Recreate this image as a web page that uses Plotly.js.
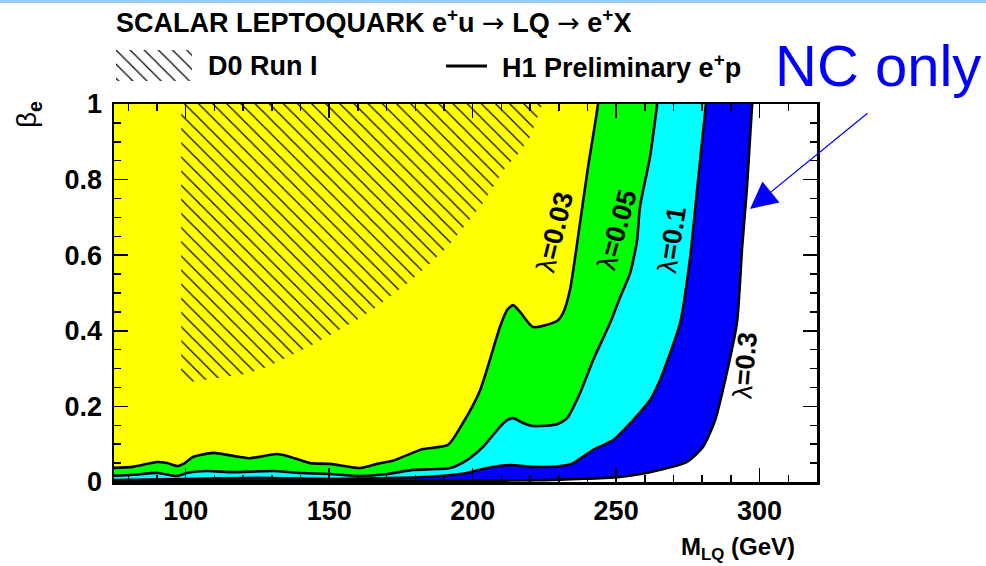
<!DOCTYPE html>
<html><head><meta charset="utf-8">
<script src="https://cdn.plot.ly/plotly-3.0.1.min.js"></script>
<style>
html,body{margin:0;padding:0;background:#fff;}
#topbar{position:absolute;left:0;top:0;width:986px;height:3px;background:#99ccff;z-index:5;}
#chart{width:986px;height:566px;}
</style></head>
<body><div id="topbar"></div><div id="chart"></div>
<script>
// ---- data ----
// lambda = 0.03 contour (yellow / green boundary)
const lam003M = [74, 81.6, 90.0, 93.5, 97.0, 99.7, 102.5, 109.5, 118.9, 122.4, 131.8, 135.3, 143.3, 150.3, 160.7, 166.7, 172.2, 177.1, 182.7, 191.4, 196.6, 202.6, 209.5, 212.0, 214.1, 216.5, 221.0, 229.4, 231.5, 233.9, 237.4, 240.2, 242.7, 243.7];
const lam003B = [0.037, 0.040, 0.053, 0.050, 0.042, 0.050, 0.066, 0.077, 0.066, 0.063, 0.074, 0.069, 0.050, 0.048, 0.037, 0.048, 0.056, 0.071, 0.087, 0.098, 0.156, 0.243, 0.410, 0.455, 0.468, 0.450, 0.410, 0.426, 0.447, 0.508, 0.685, 0.833, 0.950, 1.0];
// lambda = 0.05 contour (green / cyan boundary)
const lam005M = [74, 81.6, 90.3, 97.0, 100.4, 107.4, 116.5, 130.4, 139.8, 150.3, 160.7, 170.2, 179.2, 192.1, 198.0, 203.6, 209.5, 212.0, 214.1, 217.6, 221.0, 229.4, 232.9, 237.4, 242.0, 247.9, 251.4, 254.9, 257.3, 258.3, 261.8, 264.3];
const lam005B = [0.016, 0.019, 0.024, 0.016, 0.024, 0.029, 0.026, 0.029, 0.024, 0.021, 0.016, 0.021, 0.032, 0.037, 0.058, 0.093, 0.146, 0.164, 0.169, 0.156, 0.148, 0.153, 0.169, 0.235, 0.323, 0.421, 0.489, 0.553, 0.640, 0.728, 0.860, 1.0];
// lambda = 0.1 contour (cyan / blue boundary)
const lam01M = [74, 100, 125, 150, 175, 188.6, 198.0, 205.0, 213.0, 221.0, 230.5, 235.0, 242.0, 248.9, 255.9, 261.8, 265.3, 272.3, 275.8, 278.2, 280.0, 281.3];
const lam01B = [0.005, 0.008, 0.011, 0.008, 0.011, 0.016, 0.024, 0.037, 0.045, 0.040, 0.042, 0.050, 0.085, 0.111, 0.164, 0.217, 0.270, 0.421, 0.595, 0.772, 0.905, 1.0];
// lambda = 0.3 contour (blue / white boundary)
const lam03M = [74, 150, 200, 225, 236.4, 250.3, 261.8, 274.7, 280.3, 284.5, 288.0, 292.1, 293.9, 295.6, 297.4];
const lam03B = [0.002, 0.002, 0.003, 0.005, 0.008, 0.013, 0.026, 0.053, 0.093, 0.164, 0.270, 0.421, 0.620, 0.780, 1.0];
// D0 Run I excluded region (hatched)
const d0M = [98.4, 102.2, 111.2, 120.7, 128.3, 135.6, 142.6, 149.2, 159.7, 166.0, 172.2, 177.8, 186.2, 191.8, 203.6, 211.3, 215.5, 220.0, 223.5, 224.2, 224.2, 98.4, 98.4];
const d0B = [0.265, 0.265, 0.275, 0.286, 0.304, 0.331, 0.357, 0.384, 0.429, 0.460, 0.495, 0.529, 0.585, 0.627, 0.738, 0.831, 0.865, 0.913, 0.984, 1.0, 1.0, 1.0, 0.265];

const contours = [
  {M: lam03M, B: lam03B, color: '#0000ff', label: '0.3'},
  {M: lam01M, B: lam01B, color: '#00ffff', label: '0.1'},
  {M: lam005M, B: lam005B, color: '#00ff00', label: '0.05'},
  {M: lam003M, B: lam003B, color: '#ffff00', label: '0.03'}
];
const labelPos = {'0.03': [228.7, 0.661, -76], '0.05': [250.3, 0.667, -74], '0.1': [269.5, 0.640, -81], '0.3': [294.9, 0.31, -85]};

const traces = [];
// filled regions (outer first)
contours.forEach(c => {
  const last = c.M[c.M.length - 1];
  traces.push({
    x: c.M.concat([last, 60, 60]),
    y: c.B.concat([1.2, 1.2, c.B[0]]),
    type: 'scatter', mode: 'lines', fill: 'toself', fillcolor: c.color,
    line: {width: 0, shape: 'spline', smoothing: 0.6}, hoverinfo: 'skip', showlegend: false
  });
});
// hatched D0 region
traces.push({
  x: d0M, y: d0B, type: 'scatter', mode: 'lines', fill: 'toself',
  fillcolor: 'rgba(0,0,0,0)',
  fillpattern: {shape: '\\', size: 10, solidity: 0.12, fgcolor: '#000000', bgcolor: 'rgba(0,0,0,0)'},
  line: {width: 0}, hoverinfo: 'skip', showlegend: false
});
// contour lines
contours.forEach(c => {
  traces.push({
    x: c.M, y: c.B, type: 'scatter', mode: 'lines',
    line: {color: '#000000', width: 2.6, shape: 'spline', smoothing: 0.6},
    hoverinfo: 'skip', showlegend: false
  });
});
// legend swatch (hatched)
traces.push({
  x: [0, 1, 1, 0, 0], y: [0, 0, 1, 1, 0], xaxis: 'x2', yaxis: 'y2',
  type: 'scatter', mode: 'lines', fill: 'toself', fillcolor: 'rgba(0,0,0,0)',
  fillpattern: {shape: '\\', size: 10, solidity: 0.12, fgcolor: '#000000', bgcolor: 'rgba(0,0,0,0)'},
  line: {width: 0}, hoverinfo: 'skip', showlegend: false
});

const W = 703, H = 482, L = 114;
const px = v => (v - L) / W;
const py = v => (H - v) / H;
const FAM = 'Liberation Sans, Arial, sans-serif';
const bold = {family: FAM, size: 27, color: '#000', weight: 'bold'};
const tickBold = {family: FAM, size: 27, color: '#000', weight: 'bold'};
const labBold = {family: FAM, size: 27, color: '#000', weight: 'bold'};
const ARROW = '<span style="font-family:DejaVu Sans;font-weight:normal">→</span>';

const annotations = [
  {xref: 'paper', yref: 'paper', x: px(114), y: py(21), xanchor: 'left', yanchor: 'middle', showarrow: false,
   text: 'SCALAR LEPTOQUARK e<sup>+</sup>u ' + ARROW + ' LQ ' + ARROW + ' e<sup>+</sup>X', font: bold},
  {xref: 'paper', yref: 'paper', x: px(206), y: py(66), xanchor: 'left', yanchor: 'middle', showarrow: false,
   text: 'D0 Run I', font: bold},
  {xref: 'paper', yref: 'paper', x: px(500), y: py(66), xanchor: 'left', yanchor: 'middle', showarrow: false,
   text: 'H1 Preliminary e<sup>+</sup>p', font: bold},
  {xref: 'paper', yref: 'paper', x: px(773), y: py(66), xanchor: 'left', yanchor: 'middle', showarrow: false,
   text: 'NC only', font: {family: FAM, size: 58, color: '#0000ff'}},
  {xref: 'paper', yref: 'paper', x: px(750), y: py(209), ax: 119, ay: -97, axref: 'pixel', ayref: 'pixel',
   text: '', showarrow: true, arrowhead: 2, arrowsize: 4.5, arrowwidth: 1.2, arrowcolor: '#0000ff', standoff: 0},
  {xref: 'paper', yref: 'paper', x: px(28), y: py(115), xanchor: 'center', yanchor: 'middle', showarrow: false, textangle: -90,
   text: '<span style="font-weight:normal">β</span><sub>e</sub>', font: {family: FAM, size: 28, color: '#000', weight: 'bold'}},
  {xref: 'paper', yref: 'paper', x: px(797), y: py(548), xanchor: 'right', yanchor: 'middle', showarrow: false,
   text: 'M<sub>LQ</sub> (GeV)', font: {family: FAM, size: 24, color: '#000', weight: 'bold'}}
];
contours.forEach(c => {
  const p = labelPos[c.label];
  annotations.push({x: p[0], y: p[1], xref: 'x', yref: 'y', showarrow: false, textangle: p[2],
    text: '<span style="font-weight:normal">λ</span>=' + c.label, font: labBold});
});

const axisCommon = {
  showline: true, linecolor: '#000', linewidth: 2.5, mirror: 'ticks', ticks: 'inside',
  tickcolor: '#000', tickwidth: 1.5, ticklen: 14, showgrid: false, zeroline: false,
  tickfont: tickBold
};
const layout = {
  width: 986, height: 566,
  margin: {l: 114, r: 169, t: 0, b: 84},
  paper_bgcolor: '#ffffff', plot_bgcolor: '#ffffff',
  showlegend: false,
  xaxis: Object.assign({}, axisCommon, {range: [75, 320], dtick: 50, tick0: 0,
    minor: {dtick: 10, ticklen: 7, tickwidth: 1.5, ticks: 'inside', tickcolor: '#000'}, ticklabelstandoff: 3}),
  yaxis: Object.assign({}, axisCommon, {range: [0, 1], domain: [0, (H - 104) / H], dtick: 0.2, tick0: 0,
    minor: {dtick: 0.05, ticklen: 7, tickwidth: 1.5, ticks: 'inside', tickcolor: '#000'}, ticklabelstandoff: 4}),
  xaxis2: {domain: [px(116), px(192)], range: [0, 1], visible: false, fixedrange: true, anchor: 'y2'},
  yaxis2: {domain: [py(81), py(50)], range: [0, 1], visible: false, fixedrange: true, anchor: 'x2'},
  shapes: [
    {type: 'line', xref: 'paper', yref: 'paper', x0: px(446), x1: px(487), y0: py(66), y1: py(66),
     line: {color: '#000', width: 3}}
  ],
  annotations: annotations
};
Plotly.newPlot('chart', traces, layout, {displayModeBar: false, staticPlot: true});
</script></body></html>
